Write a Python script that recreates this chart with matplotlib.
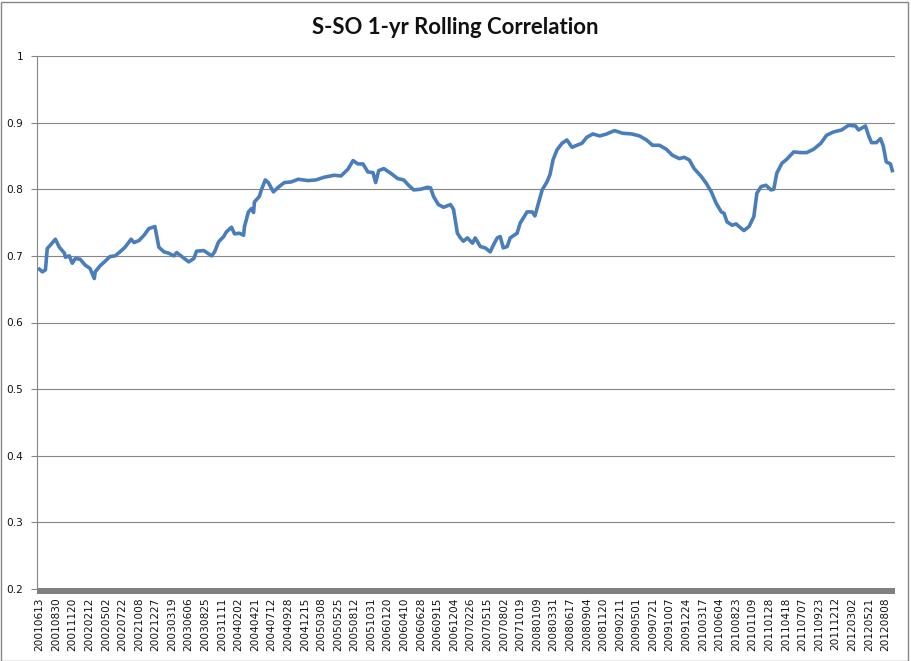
import matplotlib
matplotlib.use("Agg")
import matplotlib.pyplot as plt
from matplotlib.patches import Rectangle

# Trading-day index of each reading and the correlation value there
obs_day = [0, 10, 20, 26, 36, 53, 66, 83, 86, 99, 109, 119, 135, 152, 168, 182, 185, 201,
           218, 234, 251, 267, 284, 304, 314, 330, 347, 363, 383, 386, 396, 413, 429, 446,
           455, 472, 495, 512, 521, 545, 561, 571, 581, 594, 611, 620, 637, 647, 663, 677,
           680, 693, 703, 710, 713, 729, 736, 749, 759, 776, 792, 812, 835, 858, 891, 917,
           944, 977, 1000, 1023, 1040, 1056, 1073, 1089, 1106, 1115, 1125, 1142, 1165, 1188,
           1208, 1224, 1241, 1264, 1287, 1297, 1307, 1323, 1340, 1363, 1373, 1386, 1396,
           1406, 1419, 1436, 1445, 1462, 1478, 1495, 1505, 1518, 1528, 1538, 1551, 1561,
           1584, 1594, 1617, 1634, 1643, 1653, 1667, 1683, 1693, 1703, 1716, 1733, 1749,
           1766, 1782, 1799, 1815, 1835, 1858, 1881, 1907, 1934, 1964, 1990, 2013, 2033,
           2056, 2079, 2099, 2122, 2138, 2155, 2171, 2195, 2211, 2228, 2244, 2261, 2270,
           2280, 2297, 2310, 2320, 2336, 2353, 2369, 2379, 2393, 2409, 2426, 2435, 2445,
           2462, 2478, 2501, 2525, 2544, 2567, 2591, 2610, 2633, 2660, 2683, 2706, 2716,
           2739, 2749, 2759, 2775, 2789, 2798, 2808, 2822, 2828]
corr = [0.680, 0.676, 0.679, 0.711, 0.716, 0.725, 0.713, 0.704, 0.698, 0.700, 0.689, 0.696,
        0.695, 0.686, 0.681, 0.666, 0.676, 0.685, 0.692, 0.699, 0.700, 0.706, 0.713, 0.725,
        0.720, 0.723, 0.731, 0.741, 0.744, 0.737, 0.713, 0.706, 0.704, 0.700, 0.705, 0.699,
        0.691, 0.696, 0.707, 0.708, 0.703, 0.700, 0.706, 0.721, 0.729, 0.736, 0.743, 0.733,
        0.734, 0.731, 0.744, 0.766, 0.771, 0.765, 0.781, 0.789, 0.799, 0.814, 0.810, 0.796,
        0.803, 0.810, 0.811, 0.815, 0.813, 0.814, 0.818, 0.821, 0.820, 0.830, 0.843, 0.838,
        0.838, 0.826, 0.825, 0.810, 0.828, 0.831, 0.824, 0.816, 0.814, 0.806, 0.799, 0.800,
        0.803, 0.802, 0.789, 0.777, 0.773, 0.777, 0.770, 0.734, 0.727, 0.722, 0.727, 0.719,
        0.727, 0.714, 0.712, 0.706, 0.716, 0.727, 0.729, 0.712, 0.714, 0.727, 0.734, 0.749,
        0.766, 0.766, 0.760, 0.776, 0.799, 0.811, 0.822, 0.844, 0.859, 0.869, 0.874, 0.863,
        0.866, 0.869, 0.878, 0.883, 0.880, 0.883, 0.888, 0.884, 0.883, 0.880, 0.874, 0.866,
        0.866, 0.860, 0.851, 0.846, 0.848, 0.844, 0.831, 0.819, 0.809, 0.796, 0.779, 0.766,
        0.764, 0.751, 0.746, 0.748, 0.744, 0.738, 0.744, 0.759, 0.794, 0.804, 0.806, 0.799,
        0.800, 0.824, 0.839, 0.845, 0.856, 0.855, 0.855, 0.860, 0.869, 0.881, 0.886, 0.889,
        0.896, 0.895, 0.889, 0.895, 0.881, 0.870, 0.870, 0.876, 0.865, 0.841, 0.838, 0.828]

tick_labels = ["20010613", "20010830", "20011120", "20020212", "20020502", "20020722",
               "20021008", "20021227", "20030319", "20030606", "20030825", "20031111",
               "20040202", "20040421", "20040712", "20040928", "20041215", "20050308",
               "20050525", "20050812", "20051031", "20060120", "20060410", "20060628",
               "20060915", "20061204", "20070226", "20070515", "20070802", "20071019",
               "20080109", "20080331", "20080617", "20080904", "20081120", "20090211",
               "20090501", "20090721", "20091007", "20091224", "20100317", "20100604",
               "20100823", "20101109", "20110128", "20110418", "20110707", "20110923",
               "20111212", "20120302", "20120521", "20120808"]
label_step = 55
n_days = 2829
y_ticks = [0.2, 0.3, 0.4, 0.5, 0.6, 0.7, 0.8, 0.9, 1.0]
y_tick_text = ["0.2", "0.3", "0.4", "0.5", "0.6", "0.7", "0.8", "0.9", "1"]
title = "S-SO 1-yr Rolling Correlation"

plt.rcParams['font.family'] = ['DejaVu Sans']
grid_col = '#868686'

fig = plt.figure(figsize=(9.11, 6.61), dpi=100)
ax = fig.add_axes([37 / 911, 1 - 589 / 661, (895 - 37) / 911, (589 - 56) / 661])

ax.plot(obs_day, corr, color='#4A7EBB', linewidth=2.6, solid_joinstyle='round', zorder=3)

ax.set_xlim(-8, n_days + 8)
ax.set_ylim(0.2, 1.0)
ax.set_yticks(y_ticks)
ax.set_yticklabels(y_tick_text)
ax.set_xticks([i * label_step for i in range(len(tick_labels))])
ax.set_xticklabels(tick_labels, rotation=90, fontsize=7.6, color='#111111')
ax.tick_params(axis='x', length=0, pad=6)
ax.tick_params(axis='y', length=4, width=0.8, color=grid_col, pad=6,
               labelsize=7.6, labelcolor='#111111')

for v in y_ticks[1:]:
    ax.axhline(v, color=grid_col, linewidth=0.8, zorder=1)

for s in ['top', 'right', 'bottom']:
    ax.spines[s].set_visible(False)
ax.spines['left'].set_color(grid_col)
ax.spines['left'].set_linewidth(0.8)

# thick category-axis band (dense tick marks in the original)
band_h = 5 / 533
ax.add_patch(Rectangle((0, -band_h), 1, band_h + 0.002, transform=ax.transAxes,
                       clip_on=False, facecolor='#808080', edgecolor='none', zorder=2))

fig.text(455 / 911, 1 - 27 / 661, title, ha='center', va='center',
         fontsize=15.9, fontweight='bold', family=['Lato', 'DejaVu Sans'], color='#111111')

# chart-area border
fig.add_artist(Rectangle((0.5 / 911, 0.5 / 661), 907 / 911, 659 / 661,
                         transform=fig.transFigure, fill=False,
                         edgecolor='#868686', linewidth=1.0))

fig.savefig('out.png', dpi=100)
